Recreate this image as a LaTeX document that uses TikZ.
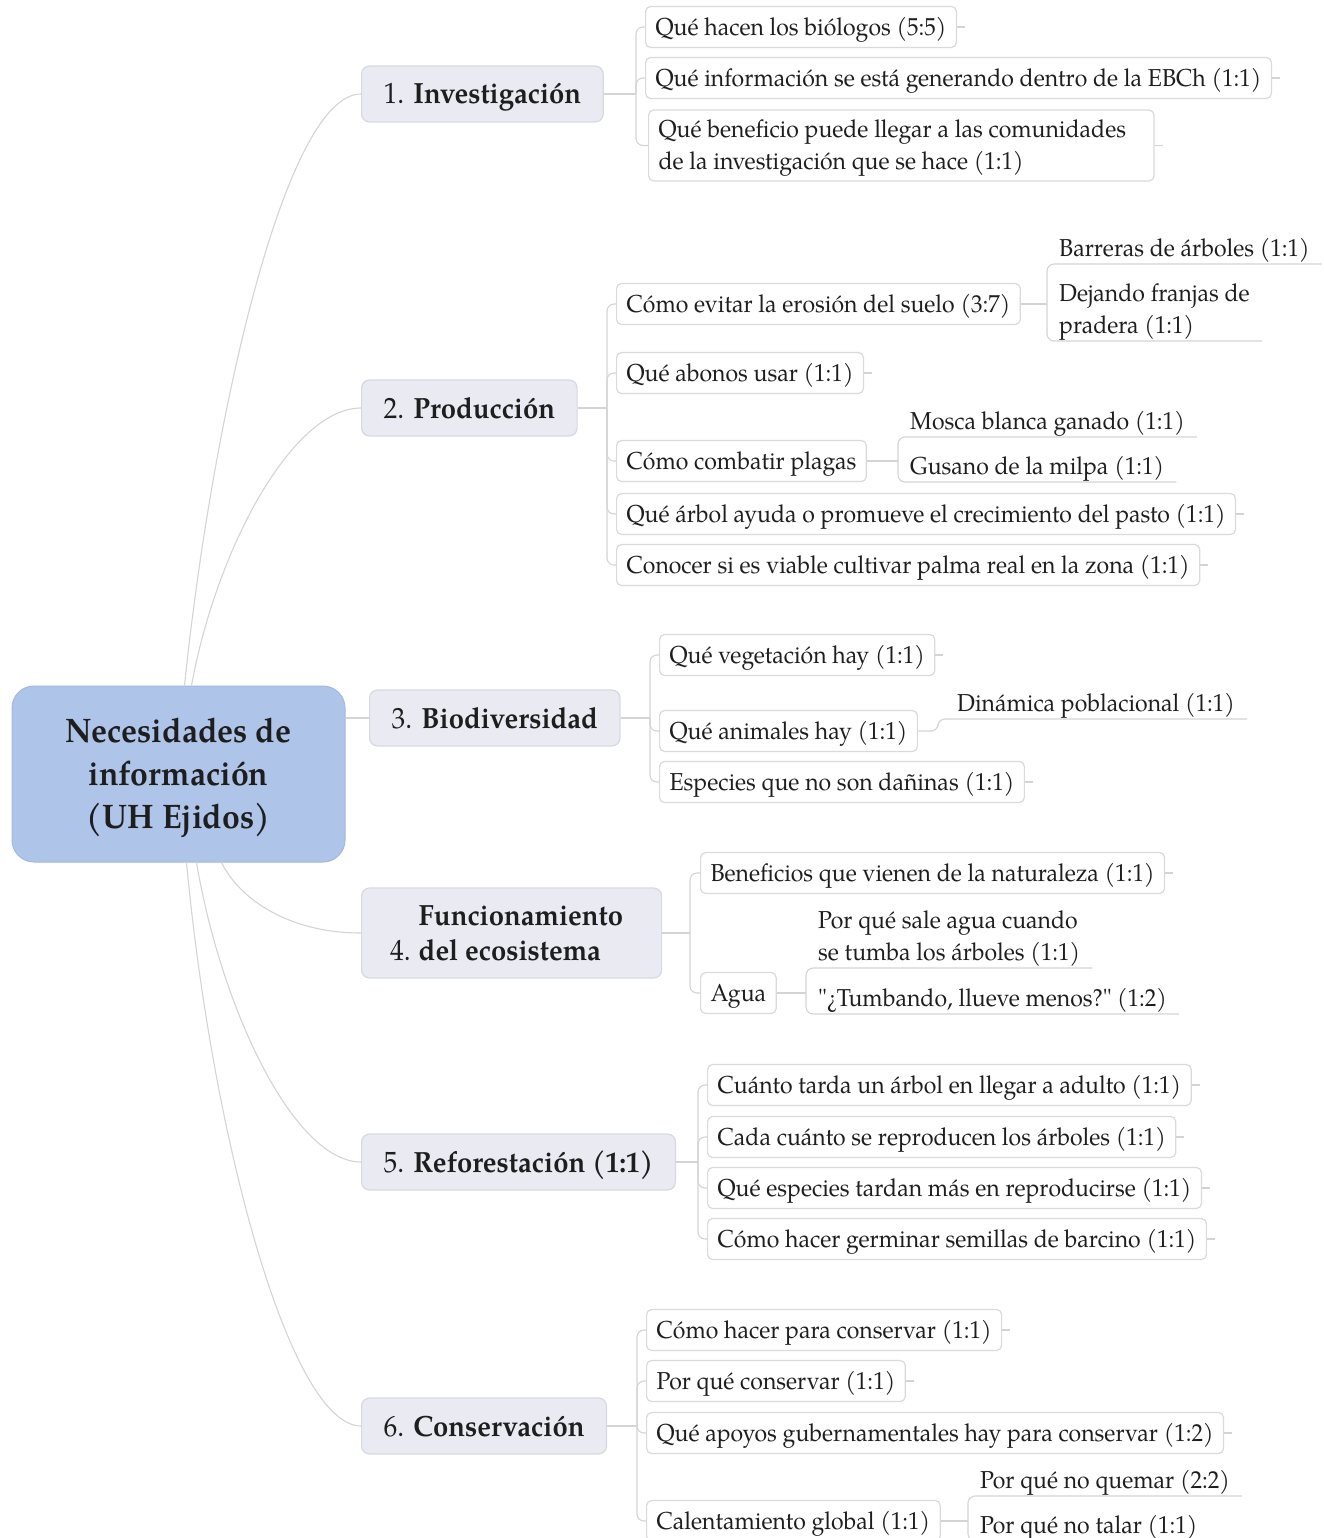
\documentclass[tikz,border=0pt]{standalone}
\usepackage{fontspec}
\setmainfont{TeX Gyre Pagella}[FakeStretch=0.94, Ligatures=TeXOff]

\definecolor{rootfill}{RGB}{174,196,232}
\definecolor{rootline}{RGB}{162,184,222}
\definecolor{topicfill}{RGB}{233,234,242}
\definecolor{topicline}{RGB}{214,216,228}
\definecolor{leafline}{RGB}{218,218,218}
\definecolor{wire}{RGB}{212,212,212}
\definecolor{ink}{RGB}{30,30,30}

\tikzset{
  conn/.style={draw=wire, line width=1.1pt},
  elbow/.style={conn, rounded corners=7pt},
  rootbox/.style={draw=rootline, fill=rootfill, rounded corners=22pt, line width=1pt,
    minimum width=333pt, minimum height=176pt, align=center, text=ink,
    font=\fontsize{34}{43}\selectfont\bfseries},
  topicbase/.style={draw=topicline, fill=topicfill, rounded corners=8pt, line width=1.2pt,
    anchor=west, inner xsep=22pt, inner ysep=0pt, minimum height=56pt, text=ink,
    font=\fontsize{29.2}{35}\selectfont},
  topic/.style={topicbase, text height=23pt, text depth=3pt},
  leaf/.style={draw=leafline, fill=white, rounded corners=5pt, line width=1.2pt,
    anchor=west, inner xsep=10pt, inner ysep=8pt, text=ink,
    font=\fontsize{24.5}{32}\selectfont, text height=21pt, text depth=4pt},
  leaftwo/.style={leaf, align=left, inner ysep=7pt, text height=53pt},
  uline/.style={anchor=south west, inner xsep=12pt, inner ysep=1pt, text=ink,
    font=\fontsize{24.5}{32}\selectfont, text height=18pt, text depth=6pt},
  ulinetwo/.style={uline, align=left, text height=50pt},
}

\begin{document}
\begin{tikzpicture}[x=1pt, y=-1pt]
\useasboundingbox (0,0) rectangle (1324,1538);
\clip (0,0) rectangle (1324,1538);

% central topic
\node[rootbox] (root) at (178.5,774)
  {\raisebox{-4pt}[\height][\depth]{\parbox{300pt}{\centering Necesidades de\\información\\(UH Ejidos)}}};

% main branches
\node[topic] (t1) at (361,94) {1. \textbf{Investigación}};
\node[topic] (t2) at (361,408) {2. \textbf{Producción}};
\node[topic] (t3) at (369,718) {3. \textbf{Biodiversidad}};
\node[topicbase, minimum height=90pt, minimum width=300pt, inner xsep=24pt] (t4) at (361,933)
  {\raisebox{-3pt}[\height][\depth]{\begin{tabular}{@{}l@{\hspace{8pt}}l@{\hspace{10pt}}}
     & \textbf{Funcionamiento}\\
   4. & \textbf{del ecosistema}
   \end{tabular}}};
\node[topic] (t5) at (361,1162) {5. \textbf{Reforestación (1:1)}};
\node[topic] (t6) at (361,1426) {6. \textbf{Conservación}};

% curved links from the central topic
\draw[conn] ([xshift=173pt]root.north west) .. controls (212,420) and (285,94) .. (t1.west);
\draw[conn] ([xshift=180pt]root.north west) .. controls (217,547) and (293,408) .. (t2.west);
\draw[conn] (root.east |- t3.west) -- (t3.west);
\draw[conn] ([xshift=210pt]root.south west) .. controls (240,900) and (290,933) .. (t4.west);
\draw[conn] ([xshift=185pt]root.south west) .. controls (222,1012) and (295,1162) .. (t5.west);
\draw[conn] ([xshift=175pt]root.south west) .. controls (213,1144) and (291,1426) .. (t6.west);

% 1. Investigación
\node[leaf] (c11) at (645,27) {Qué hacen los biólogos (5:5)};
\node[leaf] (c12) at (645,78) {Qué información se está generando dentro de la EBCh (1:1)};
\node[leaftwo] (c13) at (648,145.5) {Qué beneficio puede llegar a las comunidades\hspace*{18pt}\\de la investigación que se hace (1:1)};

% 2. Producción
\node[leaf] (c21) at (616,304) {Cómo evitar la erosión del suelo (3:7)};
\node[leaf] (c22) at (616,373) {Qué abonos usar (1:1)};
\node[leaf] (c23) at (616,461) {Cómo combatir plagas};
\node[leaf] (c24) at (616,514) {Qué árbol ayuda o promueve el crecimiento del pasto (1:1)};
\node[leaf] (c25) at (616,565) {Conocer si es viable cultivar palma real en la zona (1:1)};
\node[uline] (u211) at (1047,264) {Barreras de árboles (1:1)};
\node[ulinetwo] (u212) at (1047,341) {Dejando franjas de\\pradera (1:1)};
\node[uline] (u231) at (898,437) {Mosca blanca ganado (1:1)};
\node[uline] (u232) at (898,482) {Gusano de la milpa (1:1)};

% 3. Biodiversidad
\node[leaf] (c31) at (659,655) {Qué vegetación hay (1:1)};
\node[leaf] (c32) at (659,731) {Qué animales hay (1:1)};
\node[leaf] (c33) at (659,782) {Especies que no son dañinas (1:1)};
\node[uline] (u321) at (945,719) {Dinámica poblacional (1:1)};

% 4. Funcionamiento del ecosistema
\node[leaf] (c41) at (700,873) {Beneficios que vienen de la naturaleza (1:1)};
\node[leaf] (c42) at (700,993) {Agua};
\node[ulinetwo] (u421) at (806,968) {Por qué sale agua cuando\\se tumba los árboles (1:1)};
\node[uline] (u422) at (806,1014) {"¿Tumbando, llueve menos?" (1:2)};

% 5. Reforestación
\node[leaf] (c51) at (707,1085) {Cuánto tarda un árbol en llegar a adulto (1:1)};
\node[leaf] (c52) at (707,1137) {Cada cuánto se reproducen los árboles (1:1)};
\node[leaf] (c53) at (707,1188) {Qué especies tardan más en reproducirse (1:1)};
\node[leaf] (c54) at (707,1239) {Cómo hacer germinar semillas de barcino (1:1)};

% 6. Conservación
\node[leaf] (c61) at (646,1330) {Cómo hacer para conservar (1:1)};
\node[leaf] (c62) at (646,1381) {Por qué conservar (1:1)};
\node[leaf] (c63) at (646,1433) {Qué apoyos gubernamentales hay para conservar (1:2)};
\node[leaf] (c64) at (646,1521) {Calentamiento global (1:1)};
\node[uline] (u641) at (968,1496) {Por qué no quemar (2:2)};
\node[uline] (u642) at (968,1541) {Por qué no talar (1:1)};

% elbow brackets between a topic and its subtopics
\coordinate (j1) at ([xshift=-9pt]c11.west |- t1.east);
\coordinate (j2) at ([xshift=-9pt]c21.west |- t2.east);
\coordinate (j3) at ([xshift=-9pt]c31.west |- t3.east);
\coordinate (j4) at ([xshift=-10pt]c41.west |- t4.east);
\coordinate (j5) at ([xshift=-9pt]c51.west |- t5.east);
\coordinate (j6) at ([xshift=-9pt]c61.west |- t6.east);
\coordinate (j21) at (u211.south west |- c21.east);
\coordinate (j23) at (u231.south west |- c23.east);
\coordinate (j42) at (u421.south west |- c42.east);
\coordinate (j64) at (u641.south west |- c64.east);

\draw[conn] (t1.east) -- (j1);
\foreach \c in {c11,c12,c13} \draw[elbow] (j1) |- (\c.west);
\draw[conn] (t2.east) -- (j2);
\foreach \c in {c21,c22,c23,c24,c25} \draw[elbow] (j2) |- (\c.west);
\draw[conn] (t3.east) -- (j3);
\foreach \c in {c31,c32,c33} \draw[elbow] (j3) |- (\c.west);
\draw[conn] (t4.east) -- (j4);
\foreach \c in {c41,c42} \draw[elbow] (j4) |- (\c.west);
\draw[conn] (t5.east) -- (j5);
\foreach \c in {c51,c52,c53,c54} \draw[elbow] (j5) |- (\c.west);
\draw[conn] (t6.east) -- (j6);
\foreach \c in {c61,c62,c63,c64} \draw[elbow] (j6) |- (\c.west);

% underlined sub-subtopics
\draw[conn] (c21.east) -- (j21);
\foreach \u in {u211,u212} \draw[elbow] (j21) |- (\u.south east);
\draw[conn] (c23.east) -- (j23);
\foreach \u in {u231,u232} \draw[elbow] (j23) |- (\u.south east);
\draw[elbow] (c32.east) -| ([xshift=-7pt]u321.south west) -- (u321.south east);
\draw[conn] (c42.east) -- (j42);
\foreach \u in {u421,u422} \draw[elbow] (j42) |- (\u.south east);
\draw[conn] (c64.east) -- (j64);
\foreach \u in {u641,u642} \draw[elbow] (j64) |- (\u.south east);

% short stubs on the right of leaf topics
\foreach \c in {c11,c12,c13,c22,c24,c25,c31,c33,c41,c51,c52,c53,c54,c61,c62,c63}
  \draw[conn] (\c.east) -- ++(8,0);
\end{tikzpicture}
\end{document}
